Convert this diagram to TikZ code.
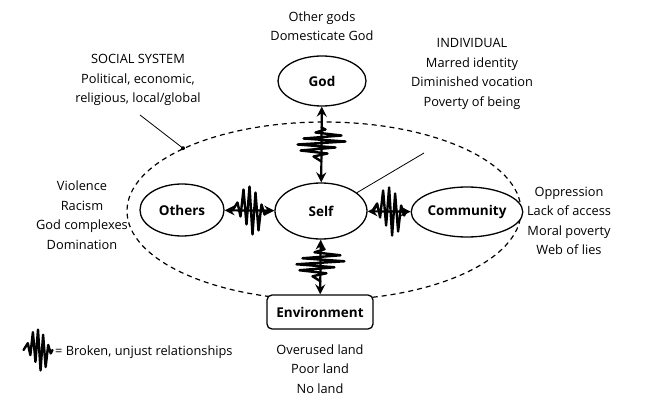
\documentclass[tikz,border=0pt]{standalone}
\usepackage{fontspec}
\setmainfont{Open Sans}
\usetikzlibrary{positioning,shapes.geometric,arrows.meta}

\begin{document}
\begin{tikzpicture}[x=1pt, y=-1pt, font=\fontsize{12.8}{19.5}\selectfont,
  circ/.style={draw, ellipse, line width=1.3pt, inner sep=0pt, font=\fontsize{13.5}{15}\selectfont\bfseries},
  envbox/.style={draw, rounded corners=5pt, line width=1.3pt, minimum width=106pt, minimum height=34pt, font=\fontsize{13.5}{15}\selectfont\bfseries},
  rel/.style={line width=2.2pt, {Stealth[length=10pt,width=10pt,inset=3.5pt]}-{Stealth[length=10pt,width=10pt,inset=3.5pt]}},
  zig/.style={line width=2.4pt, line join=round, line cap=round},
  txt/.style={align=center, inner sep=0pt},
  broken/.pic={\draw[zig] (-17,0)--(-12,-8)--(-9,6)--(-6,-21)--(-3,14)--(0,-24)--(3,24)--(6,-18)--(9,20)--(12,-6)--(15,4)--(17,0);}]
\useasboundingbox (0,0) rectangle (667,409);
\node[draw, dashed, ellipse, line width=1.2pt, dash pattern=on 5pt off 4pt, minimum width=394pt, minimum height=178pt, inner sep=0pt] (sys) at (324,211) {};
\node[circ, minimum width=88pt, minimum height=50pt] (god) at (322,81) {God};
\node[circ, minimum width=92pt, minimum height=56pt, fill=white] (self) at (321,211) {Self};
\node[circ, minimum width=84pt, minimum height=52pt, fill=white] (others) at (182,210) {Others};
\node[circ, minimum width=92pt, minimum height=50pt, fill=white] (comm) at (467,212) {Community};
\node[envbox, fill=white] (env) at (320,312) {Environment};
\node[txt] (gods) at (322,26) {Other gods\\Domesticate God};
\node[txt] (indiv) at (472,74) {INDIVIDUAL\\Marred identity\\Diminished vocation\\Poverty of being};
\node[txt] (social) at (138,80) {SOCIAL SYSTEM\\Political, economic,\\religious, local/global};
\node[txt] (sins) at (82,215) {Violence\\Racism\\God complexes\\Domination};
\node[txt] (oppr) at (569,221) {Oppression\\Lack of access\\Moral poverty\\Web of lies};
\node[txt] (land) at (320,369) {Overused land\\Poor land\\No land};
\node[txt, anchor=west] (legend) at (55,352) {= Broken, unjust relationships};
\coordinate (socialend) at (140,115);
\coordinate (indivend) at (424,153);
\draw[line width=0.8pt] (socialend)--(sys.156);
\fill (sys.156) circle (2pt);
\draw[line width=0.8pt] (self.27)--(indivend);
\draw[rel](self)--(god);\draw[rel](self)--(others);\draw[rel](self)--(comm);\draw[rel](self)--(env);
\path (self)--(god) coordinate[pos=.5] (mg);
\path (self)--(others) coordinate[pos=.5] (mo);
\path (self)--(comm) coordinate[pos=.5] (mc);
\path (self)--(env) coordinate[pos=.45] (me);
\pic[rotate=90] at (mg) {broken};
\pic at (mo) {broken};
\pic at (mc) {broken};
\pic[rotate=90] at (me) {broken};
\pic[scale=0.85] at (38,350) {broken};
\end{tikzpicture}
\end{document}
